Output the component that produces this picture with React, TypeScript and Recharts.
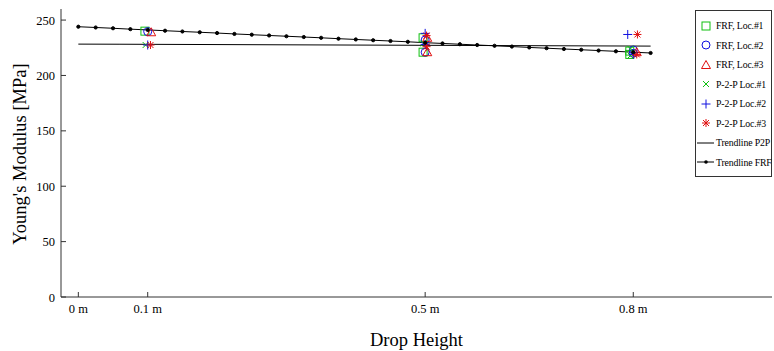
import { ComposedChart, Line, Scatter, XAxis, YAxis, Legend, Label } from "recharts"

const heightTicks = [0, 0.1, 0.5, 0.8]
const modulusTicks = [0, 50, 100, 150, 200, 250]

// measured points (drop height, modulus), small offsets as in the plot
const frfLoc1 = [
  { x: 0.096, y: 240 }, { x: 0.497, y: 234 }, { x: 0.497, y: 221 },
  { x: 0.795, y: 222 }, { x: 0.795, y: 219 },
]
const frfLoc2 = [
  { x: 0.1, y: 239.5 }, { x: 0.5, y: 232 }, { x: 0.5, y: 221 },
  { x: 0.8, y: 223 }, { x: 0.8, y: 220 },
]
const frfLoc3 = [
  { x: 0.105, y: 239 }, { x: 0.503, y: 234 }, { x: 0.503, y: 221 },
  { x: 0.805, y: 221 },
]
const p2pLoc1 = [
  { x: 0.097, y: 227.5 }, { x: 0.498, y: 229 },
  { x: 0.796, y: 224 }, { x: 0.796, y: 218 },
]
const p2pLoc2 = [
  { x: 0.1, y: 227.5 }, { x: 0.5, y: 238 }, { x: 0.5, y: 228 },
  { x: 0.792, y: 237 }, { x: 0.8, y: 219 },
]
const p2pLoc3 = [
  { x: 0.104, y: 227.5 }, { x: 0.502, y: 236 }, { x: 0.502, y: 226 },
  { x: 0.806, y: 237 }, { x: 0.805, y: 219 },
]

const trendP2P = [
  { x: 0, y: 228.3 }, { x: 0.06, y: 228.2 }, { x: 0.825, y: 226.5 },
]

const trendFrfX = [
  0, 0.025, 0.05, 0.075, 0.1, 0.125, 0.15, 0.175, 0.2, 0.225, 0.25, 0.275,
  0.3, 0.325, 0.35, 0.375, 0.4, 0.425, 0.45, 0.475, 0.5, 0.525, 0.55, 0.575,
  0.6, 0.625, 0.65, 0.675, 0.7, 0.725, 0.75, 0.775, 0.8, 0.825,
]
const trendFrfY = [
  244.0, 243.3, 242.6, 241.8, 241.1, 240.4, 239.7, 239.0, 238.3, 237.5, 236.8, 236.1,
  235.4, 234.7, 234.0, 233.2, 232.5, 231.8, 231.1, 230.4, 229.6, 228.9, 228.2, 227.5,
  226.8, 226.1, 225.3, 224.6, 223.9, 223.2, 222.5, 221.8, 221.0, 220.3,
]
const trendFRF = trendFrfX.map((x, i) => ({ x, y: trendFrfY[i] }))

const GREEN = "#10c010"
const BLUE = "#1010e0"
const RED = "#e01010"
const FONT = "'Liberation Serif', 'Times New Roman', serif"

const Square = ({ cx, cy }: any) => (
  <rect x={cx - 4} y={cy - 4} width={8} height={8} fill="none" stroke={GREEN} strokeWidth={1} />
)
const Circle = ({ cx, cy }: any) => (
  <circle cx={cx} cy={cy} r={4} fill="none" stroke={BLUE} strokeWidth={1} />
)
const Triangle = ({ cx, cy }: any) => (
  <polygon
    points={`${cx},${cy - 4.5} ${cx - 4.5},${cy + 3.5} ${cx + 4.5},${cy + 3.5}`}
    fill="none" stroke={RED} strokeWidth={1}
  />
)
const Cross = ({ cx, cy }: any) => (
  <g stroke={GREEN} strokeWidth={1}>
    <line x1={cx - 3} y1={cy - 3} x2={cx + 3} y2={cy + 3} />
    <line x1={cx - 3} y1={cy + 3} x2={cx + 3} y2={cy - 3} />
  </g>
)
const Plus = ({ cx, cy }: any) => (
  <g stroke={BLUE} strokeWidth={1}>
    <line x1={cx - 4.5} y1={cy} x2={cx + 4.5} y2={cy} />
    <line x1={cx} y1={cy - 4.5} x2={cx} y2={cy + 4.5} />
  </g>
)
const Star = ({ cx, cy }: any) => (
  <g stroke={RED} strokeWidth={1}>
    <line x1={cx - 4} y1={cy} x2={cx + 4} y2={cy} />
    <line x1={cx} y1={cy - 4} x2={cx} y2={cy + 4} />
    <line x1={cx - 3} y1={cy - 3} x2={cx + 3} y2={cy + 3} />
    <line x1={cx - 3} y1={cy + 3} x2={cx + 3} y2={cy - 3} />
  </g>
)

// tick label plus a short inward tick line
const XTick = ({ x, y, payload }: any) => (
  <g>
    <line x1={x} x2={x} y1={y - 7} y2={y - 12} stroke="#333" />
    <text x={x} y={y} dy="0.75em" textAnchor="middle" fill="#000" fontSize={12.5} fontFamily={FONT}>
      {`${payload.value} m`}
    </text>
  </g>
)
const YTick = ({ x, y, payload }: any) => (
  <g>
    <line x1={x + 6} x2={x + 11} y1={y} y2={y} stroke="#333" />
    <text x={x} y={y} dy="0.36em" textAnchor="end" fill="#000" fontSize={12.5} fontFamily={FONT}>
      {payload.value}
    </text>
  </g>
)

const legendRows = [
  { name: "FRF, Loc.#1", icon: Square },
  { name: "FRF, Loc.#2", icon: Circle },
  { name: "FRF, Loc.#3", icon: Triangle },
  { name: "P-2-P Loc.#1", icon: Cross },
  { name: "P-2-P Loc.#2", icon: Plus },
  { name: "P-2-P Loc.#3", icon: Star },
  { name: "Trendline P2P", icon: null },
  { name: "Trendline FRF", icon: null },
]

function LegendBox() {
  return (
    <div
      style={{
        border: "1px solid #333",
        background: "#fff",
        padding: "5px 0 4px",
        fontFamily: FONT,
        fontSize: 9.8,
        letterSpacing: -0.15,
        color: "#000",
        boxSizing: "border-box",
        width: 77,
      }}
    >
      {legendRows.map((row, i) => {
        const Icon = row.icon
        return (
          <div key={row.name} style={{ display: "flex", alignItems: "center", height: 19.5 }}>
            <svg width={19} height={12} style={{ flex: "none" }}>
              {Icon ? <Icon cx={10} cy={6} /> : <line x1={1} y1={6} x2={18} y2={6} stroke="#000" />}
              {i === 7 && <circle cx={10} cy={6} r={1.8} fill="#000" />}
            </svg>
            <span style={{ whiteSpace: "nowrap", marginLeft: 1 }}>{row.name}</span>
          </div>
        )
      })}
    </div>
  )
}

export default function App() {
  return (
    <div style={{ position: "absolute", left: 0, top: 0, fontFamily: FONT, background: "#fff" }}>
      <ComposedChart width={774} height={351} margin={{ top: 9, right: 2, bottom: 0, left: 0 }}>
        <XAxis
          dataKey="x"
          type="number"
          domain={[-0.025, 1.0]}
          ticks={heightTicks}
          allowDataOverflow
          height={54}
          tickLine={false}
          tickSize={0}
          tickMargin={7}
          stroke="#333"
          tick={XTick}
        >
          <Label
            value="Drop Height"
            position="insideBottom"
            offset={5}
            style={{ fill: "#000", fontSize: 18.5, fontFamily: FONT }}
          />
        </XAxis>
        <XAxis
          xAxisId="top"
          orientation="top"
          type="number"
          domain={[-0.025, 1.0]}
          ticks={heightTicks}
          allowDataOverflow
          height={0}
          mirror
          tickSize={5}
          tick={false}
          stroke="#333"
        />
        <YAxis
          type="number"
          domain={[0, 260]}
          ticks={modulusTicks}
          allowDataOverflow
          width={61}
          tickLine={false}
          tickSize={0}
          tickMargin={6}
          stroke="#333"
          tick={YTick}
        >
          <Label
            content={() => (
              <text
                x={20}
                y={154}
                transform="rotate(-90 20 154)"
                textAnchor="middle"
                dominantBaseline="central"
                style={{ fill: "#000", fontSize: 18.5, fontFamily: FONT }}
              >
                Young's Modulus [MPa]
              </text>
            )}
          />
        </YAxis>
        <YAxis
          yAxisId="right"
          orientation="right"
          type="number"
          domain={[0, 260]}
          ticks={modulusTicks}
          allowDataOverflow
          width={0}
          mirror
          tickSize={5}
          tick={false}
          stroke="#333"
        />
        <Legend
          layout="horizontal"
          verticalAlign="middle"
          align="center"
          content={() => <LegendBox />}
          wrapperStyle={{ left: 695, top: 10, width: 77, height: "auto" }}
        />
        <Line data={trendP2P} dataKey="y" name="Trendline P2P" stroke="#000" strokeWidth={1} dot={false} isAnimationActive={false} />
        <Line
          data={trendFRF}
          dataKey="y"
          name="Trendline FRF"
          stroke="#000"
          strokeWidth={1}
          dot={{ r: 1.6, fill: "#000", stroke: "#000" }}
          isAnimationActive={false}
        />
        <Scatter data={frfLoc1} dataKey="y" name="FRF, Loc.#1" shape={Square} isAnimationActive={false} />
        <Scatter data={frfLoc2} dataKey="y" name="FRF, Loc.#2" shape={Circle} isAnimationActive={false} />
        <Scatter data={frfLoc3} dataKey="y" name="FRF, Loc.#3" shape={Triangle} isAnimationActive={false} />
        <Scatter data={p2pLoc1} dataKey="y" name="P-2-P Loc.#1" shape={Cross} isAnimationActive={false} />
        <Scatter data={p2pLoc2} dataKey="y" name="P-2-P Loc.#2" shape={Plus} isAnimationActive={false} />
        <Scatter data={p2pLoc3} dataKey="y" name="P-2-P Loc.#3" shape={Star} isAnimationActive={false} />
      </ComposedChart>
    </div>
  )
}
